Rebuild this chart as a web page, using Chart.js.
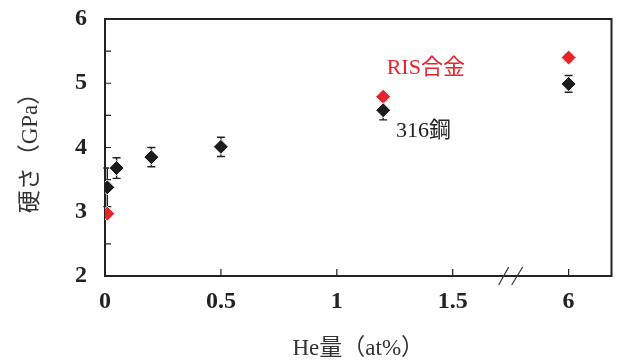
<!DOCTYPE html>
<html>
<head>
<meta charset="utf-8">
<script src="https://cdn.jsdelivr.net/npm/chart.js@4/dist/chart.umd.min.js"></script>
<style>
  html, body { margin: 0; background: #fff; }
  #wrap { width: 620px; height: 360px; }
</style>
</head>
<body>
<div id="wrap"><canvas id="grafico"></canvas></div>
<script>
// データ
const heAmount = [0.01, 0.05, 0.2, 0.5, 1.2, 6];
const steelHardness = [3.38, 3.68, 3.85, 4.01, 4.58, 4.99];
const steelError = [0.3, 0.16, 0.15, 0.15, 0.15, 0.13];
const risAmount = [0.01, 1.2, 6];
const risHardness = [2.97, 4.79, 5.40];
const risError = [0, 0.06, 0.06];
const xTickValues = [0, 0.5, 1, 1.5, 6];
const yTickLabels = [2, 3, 4, 5, 6];

// 軸の省略 (1.5 と 6 の間)
const BREAK_POS = 1.75;
const pos = x => (x > BREAK_POS ? x - 4 : x);

const tickFont = { family: '"Liberation Serif", "DejaVu Serif", serif', size: 24, weight: 'bold' };
const titleFont = { family: '"Liberation Serif", "Noto Sans CJK JP", serif', size: 23, lineHeight: 1.0 };

const decoPlugin = {
  id: 'deco',
  beforeDatasetsDraw(chart) {
    const { ctx, chartArea: a, scales: { x, y } } = chart;
    ctx.save();
    ctx.strokeStyle = '#222';
    ctx.lineWidth = 2;
    ctx.strokeRect(a.left, a.top, a.right - a.left, a.bottom - a.top);
    ctx.lineWidth = 1.2;
    ctx.beginPath();
    y.ticks.forEach(t => {
      if (t.value <= 2 || t.value >= 6) return;
      const py = y.getPixelForValue(t.value);
      ctx.moveTo(a.left, py);
      ctx.lineTo(a.left + 6, py);
    });
    x.ticks.forEach(t => {
      if (t.value <= 0) return;
      const px = x.getPixelForValue(t.value);
      ctx.moveTo(px, a.bottom);
      ctx.lineTo(px, a.bottom - 7);
    });
    ctx.stroke();

    // 誤差棒
    const drawErr = (xs, ys, es, color) => {
      ctx.strokeStyle = color;
      ctx.lineWidth = 1.4;
      xs.forEach((xv, i) => {
        if (!es[i]) return;
        const px = x.getPixelForValue(pos(xv));
        const top = y.getPixelForValue(ys[i] + es[i]);
        const bot = y.getPixelForValue(ys[i] - es[i]);
        ctx.beginPath();
        ctx.moveTo(px, top); ctx.lineTo(px, bot);
        ctx.moveTo(px - 4, top); ctx.lineTo(px + 4, top);
        ctx.moveTo(px - 4, bot); ctx.lineTo(px + 4, bot);
        ctx.stroke();
      });
    };
    drawErr(heAmount, steelHardness, steelError, '#222');
    drawErr(risAmount, risHardness, risError, '#e8232a');
    ctx.restore();
  },
  afterDraw(chart) {
    const { ctx, chartArea: a, scales: { x, y } } = chart;
    ctx.save();
    // 省略記号 //
    const bx = x.getPixelForValue(BREAK_POS);
    ctx.strokeStyle = '#333';
    ctx.lineWidth = 1.2;
    ctx.beginPath();
    ctx.moveTo(bx - 12, a.bottom + 9); ctx.lineTo(bx - 2, a.bottom - 9);
    ctx.moveTo(bx + 1, a.bottom + 9); ctx.lineTo(bx + 12, a.bottom - 9);
    ctx.stroke();

    // 系列名
    ctx.font = '22px "Liberation Serif", "Noto Sans CJK JP", serif';
    ctx.textBaseline = 'middle';
    ctx.textAlign = 'left';
    ctx.fillStyle = '#e8232a';
    ctx.fillText('RIS合金', x.getPixelForValue(1.215), y.getPixelForValue(5.24));
    ctx.fillStyle = '#222';
    ctx.fillText('316鋼', x.getPixelForValue(1.255), y.getPixelForValue(4.25));
    ctx.restore();
  }
};

new Chart(document.getElementById('grafico'), {
  type: 'scatter',
  data: {
    datasets: [{
      label: '316鋼',
      data: heAmount.map((v, i) => ({ x: pos(v), y: steelHardness[i] })),
      backgroundColor: '#1c1c1c',
      borderColor: '#fff',
      borderWidth: 1,
      pointStyle: 'rectRot',
      pointRadius: 7.5
    }, {
      label: 'RIS合金',
      data: risAmount.map((v, i) => ({ x: pos(v), y: risHardness[i] })),
      backgroundColor: '#e8232a',
      borderColor: '#fff',
      borderWidth: 1,
      pointStyle: 'rectRot',
      pointRadius: 7.5
    }]
  },
  options: {
    responsive: true,
    maintainAspectRatio: false,
    animation: false,
    layout: { padding: { left: 12, right: 8, top: 19, bottom: 0 } },
    plugins: { legend: { display: false }, tooltip: { enabled: false } },
    scales: {
      x: {
        type: 'linear',
        min: 0,
        max: 2.185,
        afterBuildTicks: s => { s.ticks = xTickValues.map(v => ({ value: pos(v) })); },
        afterFit: s => { s.height = 84; s.paddingLeft = 0; s.paddingRight = 0; },
        grid: { display: false, drawTicks: false },
        border: { display: false },
        ticks: {
          callback: (v, i) => String(xTickValues[i]),
          font: tickFont,
          color: '#222',
          padding: 11,
          maxRotation: 0
        },
        title: { display: true, text: 'He量（at%）', font: titleFont, color: '#333', padding: { top: 0, bottom: 0 } }
      },
      y: {
        min: 2,
        max: 6,
        afterFit: s => { s.width = 93; s.paddingTop = 0; s.paddingBottom = 0; },
        grid: { display: false, drawTicks: false },
        border: { display: false },
        ticks: {
          stepSize: 0.5,
          callback: v => (yTickLabels.includes(v) ? String(v) : ''),
          font: tickFont,
          color: '#222',
          padding: 18
        },
        title: { display: true, text: '硬さ（GPa）', font: titleFont, color: '#333', padding: { top: 7, bottom: 0 } }
      }
    }
  },
  plugins: [decoPlugin]
});
</script>
</body>
</html>
